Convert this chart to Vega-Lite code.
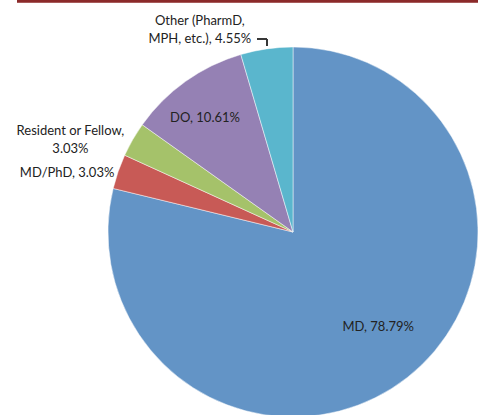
{
  "$schema": "https://vega.github.io/schema/vega-lite/v6.json",
  "autosize": "none",
  "width": 370,
  "height": 370,
  "padding": {"left": 108, "top": 47, "right": 0, "bottom": 0},
  "background": "white",
  "config": {"view": {"stroke": null}, "text": {"font": "Lato", "fontSize": 13, "color": "#222222"}},
  "data": {
    "values": [
      {"cat": "MD", "value": 78.79, "order": 1, "label": "MD, 78.79%"},
      {"cat": "MD/PhD", "value": 3.03, "order": 2, "label": "MD/PhD, 3.03%"},
      {"cat": "Resident or Fellow", "value": 3.03, "order": 3, "label": ["Resident or Fellow,", "3.03%"]},
      {"cat": "DO", "value": 10.61, "order": 4, "label": "DO, 10.61%"},
      {"cat": "Other", "value": 4.55, "order": 5, "label": ["Other (PharmD,", "MPH, etc.), 4.55%"]}
    ]
  },
  "encoding": {
    "theta": {"field": "value", "type": "quantitative", "stack": true},
    "order": {"field": "order", "type": "quantitative"}
  },
  "layer": [
    {
      "mark": {"type": "arc", "outerRadius": 185, "stroke": "#ffffff", "strokeWidth": 0.8, "strokeOpacity": 0.6},
      "encoding": {
        "color": {
          "field": "cat", "type": "nominal", "legend": null,
          "scale": {
            "domain": ["MD", "MD/PhD", "Resident or Fellow", "DO", "Other"],
            "range": ["#6394C6", "#C85A56", "#A5C26A", "#9581B4", "#5AB6CD"]
          }
        }
      }
    },
    {
      "mark": {"type": "text", "radius": 120, "dx": 11, "dy": 1, "align": "center", "baseline": "middle"},
      "encoding": {"text": {"condition": {"test": "datum.cat === 'MD'", "field": "label"}, "value": ""}}
    },
    {
      "mark": {"type": "text", "radius": 143, "dx": -5, "dy": 2, "align": "center", "baseline": "middle"},
      "encoding": {"text": {"condition": {"test": "datum.cat === 'DO'", "field": "label"}, "value": ""}}
    },
    {
      "mark": {"type": "text", "radius": 189, "dx": 0, "dy": 3, "align": "right", "baseline": "middle"},
      "encoding": {"text": {"condition": {"test": "datum.cat === 'MD/PhD'", "field": "label"}, "value": ""}}
    },
    {
      "mark": {"type": "text", "radius": 190, "dx": -58, "dy": -6, "align": "center", "baseline": "middle", "lineHeight": 18},
      "encoding": {"text": {"condition": {"test": "datum.cat === 'Resident or Fellow'", "field": "label"}, "value": ""}}
    },
    {
      "mark": {"type": "text", "radius": 205, "dx": -64, "dy": -8, "align": "center", "baseline": "middle", "lineHeight": 18},
      "encoding": {"text": {"condition": {"test": "datum.cat === 'Other'", "field": "label"}, "value": ""}}
    },
    {
      "mark": {"type": "rule", "stroke": "#333333", "strokeWidth": 1},
      "encoding": {"x": {"value": 149}, "x2": {"value": 159}, "y": {"value": -8}}
    },
    {
      "mark": {"type": "rule", "stroke": "#333333", "strokeWidth": 1},
      "encoding": {"x": {"value": 159}, "y": {"value": -8}, "y2": {"value": -1}}
    },
    {
      "mark": {"type": "rule", "stroke": "#8B2A2A", "strokeWidth": 2.5},
      "encoding": {"x": {"value": -91}, "x2": {"value": 370}, "y": {"value": -46}}
    }
  ]
}
